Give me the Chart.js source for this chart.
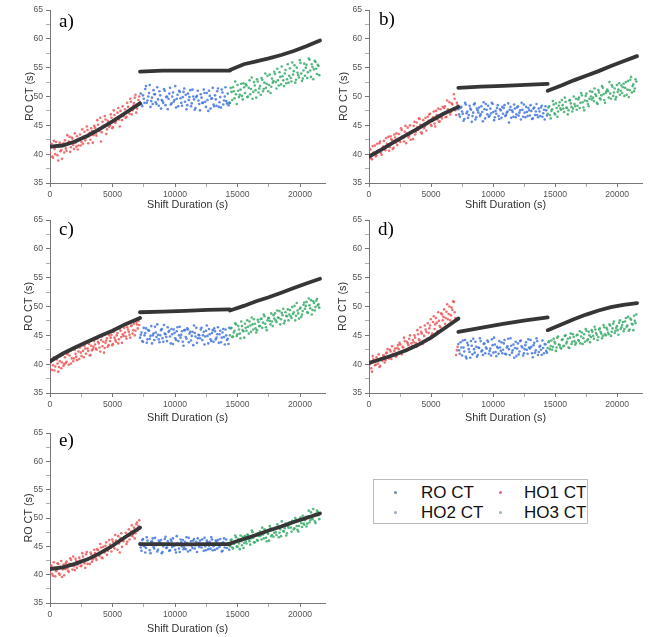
<!DOCTYPE html>
<html>
<head>
<meta charset="utf-8">
<script src="https://cdn.jsdelivr.net/npm/chart.js@4.4.1/dist/chart.umd.min.js"></script>
<style>
  body { margin: 0; background: #fff; width: 650px; height: 637px; position: relative; overflow: hidden; font-family: "Liberation Sans", Arial, sans-serif; }
  canvas { position: absolute; }
  #legend { position: absolute; left: 373px; top: 479px; width: 213px; height: 43px; border: 1px solid #bbb; }
  .item { position: absolute; font-size: 17px; line-height: 20px; color: #111; white-space: nowrap; }
  .dot { position: absolute; width: 3px; height: 3px; border-radius: 50%; }
</style>
</head>
<body>
<canvas id="panelA"></canvas>
<canvas id="panelB"></canvas>
<canvas id="panelC"></canvas>
<canvas id="panelD"></canvas>
<canvas id="panelE"></canvas>
<div id="legend"></div>
<script>
// time grid inside each 7200 s block (two interleaved passes), and where each block starts
const sampleOffsets = [0,120,240,360,480,600,720,840,960,1080,1200,1320,1440,1560,1680,1800,1920,2040,2160,2280,
  2400,2520,2640,2760,2880,3000,3120,3240,3360,3480,3600,3720,3840,3960,4080,4200,4320,4440,4560,4680,
  4800,4920,5040,5160,5280,5400,5520,5640,5760,5880,6000,6120,6240,6360,6480,6600,6720,6840,6960,7080];
const sampleOffsets2 = [60,180,300,420,540,660,780,900,1020,1140,1260,1380,1500,1620,1740,1860,1980,2100,2220,2340,
  2460,2580,2700,2820,2940,3060,3180,3300,3420,3540,3660,3780,3900,4020,4140,4260,4380,4500,4620,4740,
  4860,4980,5100,5220,5340,5460,5580,5700,5820,5940,6060,6180,6300,6420,6540,6660,6780,6900,7020,7140];
const segmentStarts = [0, 7200, 14400];

// x positions of the fitted curves
const fitX1 = [0, 1000, 2000, 3000, 4000, 5000, 6000, 7200];
const fitX2 = [7200, 9000, 10800, 12600, 14400];
const fitX3 = [14400, 15500, 16500, 17500, 18500, 19500, 20500, 21600];

// axis ticks (labelled ones are multiples of 5000 / 5)
const xTicks = [0, 2500, 5000, 7500, 10000, 12500, 15000, 17500, 20000];
const yTicks = [35, 37.5, 40, 42.5, 45, 47.5, 50, 52.5, 55, 57.5, 60, 62.5, 65];

const legendLabels = ['RO CT', 'HO1 CT', 'HO2 CT', 'HO3 CT'];
const panelLabels = ['a)', 'b)', 'c)', 'd)', 'e)'];

// ---- a) ----
const aRed = [40.2,41.8,39.4,40.9,42.1,39.8,41.3,40.5,39.2,41.9,
  42.4,40.6,41.8,43.0,41.2,42.7,40.9,42.0,43.1,41.5,
  43.4,42.1,41.8,43.9,42.8,44.2,43.1,42.5,44.0,43.3,
  44.6,43.2,45.1,44.0,42.2,45.6,44.8,46.0,44.3,45.4,
  45.0,46.3,44.7,46.8,45.7,47.2,46.0,47.5,45.9,46.6,
  47.8,46.5,48.2,47.0,49.1,47.6,48.8,50.3,47.9,49.4];
const aRed2 = [41.1,39.6,42.3,40.0,41.5,38.9,42.0,40.7,41.7,40.3,
  41.0,43.3,42.2,40.4,42.9,41.6,43.6,41.3,40.8,42.6,
  41.5,44.3,43.0,42.4,44.8,41.9,43.7,44.5,42.0,44.9,
  43.6,45.9,44.4,46.3,43.8,44.9,46.6,43.5,45.8,44.7,
  46.9,44.5,47.6,45.4,46.2,48.0,44.8,46.7,48.3,47.1,
  46.3,48.9,47.4,49.6,46.9,48.4,49.8,47.2,48.7,50.0];
const aBlue = [49.0,48.6,50.2,48.9,51.8,49.3,50.6,48.2,49.8,51.1,
  50.4,48.7,49.5,50.9,47.9,49.2,51.3,48.5,50.0,49.6,
  51.5,48.8,50.7,49.4,48.1,50.3,51.0,49.7,48.4,50.8,
  49.1,47.8,50.5,49.9,48.3,51.2,49.5,48.0,50.1,49.3,
  47.6,49.8,48.9,50.6,48.2,49.4,51.0,47.9,49.7,48.6,
  50.2,48.4,51.4,49.0,48.1,50.7,49.3,51.6,48.8,48.5];
const aBlue2 = [50.5,48.3,49.6,51.3,48.9,50.0,52.0,49.2,48.7,50.4,
  49.0,51.6,48.4,50.2,49.4,48.9,51.0,49.9,47.8,50.5,
  48.6,50.0,49.1,51.8,49.6,48.3,50.8,48.9,49.9,51.4,
  50.3,48.5,49.4,51.1,48.8,50.0,47.7,49.9,51.0,48.7,
  50.4,48.9,51.2,49.1,50.6,47.5,50.1,49.6,51.5,48.3,
  49.5,50.9,48.2,49.9,51.2,48.6,50.0,49.2,50.5,48.9];
const aGreen = [48.9,50.8,51.6,49.7,50.4,52.0,49.9,51.2,50.1,52.3,
  50.6,51.9,50.0,52.8,51.3,49.6,52.5,51.1,53.0,50.7,
  51.8,53.2,50.9,52.4,51.5,53.6,52.0,50.6,53.1,52.7,
  53.9,51.4,52.8,54.2,52.1,53.5,51.8,54.6,53.0,52.4,
  54.9,52.6,53.8,55.4,52.9,54.1,53.3,55.8,52.7,54.5,
  53.6,55.5,54.2,56.4,53.4,55.1,54.7,56.0,53.9,55.3];
const aGreen2 = [51.5,49.4,50.9,52.6,48.7,51.0,50.3,52.2,49.5,51.6,
  52.1,49.9,51.5,50.4,53.3,50.8,51.9,49.8,52.6,51.4,
  50.3,52.9,51.3,54.0,52.2,50.9,53.8,51.7,52.4,54.3,
  52.5,54.8,51.9,53.4,55.2,52.8,54.0,52.3,55.6,53.6,
  53.2,55.9,54.4,52.4,55.0,53.7,56.3,54.0,53.1,55.7,
  55.0,53.2,56.6,54.5,55.6,53.0,56.2,54.8,55.5,53.7];
const aFit1 = [41.3, 41.5, 42.2, 43.2, 44.4, 45.7, 47.1, 48.8];
const aFit2 = [54.3, 54.5, 54.5, 54.5, 54.5];
const aFit3 = [54.6, 55.6, 56.1, 56.6, 57.2, 57.9, 58.7, 59.7];

// ---- b) ----
const bRed = [39.5,40.8,39.1,40.3,41.5,39.8,40.6,41.9,40.2,41.0,
  42.3,40.7,41.8,43.0,41.2,42.6,40.9,43.4,42.0,41.6,
  43.5,42.1,44.2,42.8,43.9,41.9,44.6,43.2,42.5,44.0,
  44.9,43.4,45.5,44.2,46.1,43.8,45.0,44.5,46.3,45.2,
  45.8,47.0,44.9,46.4,45.3,47.5,46.0,45.6,47.8,46.2,
  47.1,48.3,46.5,47.8,49.0,47.3,48.6,50.4,47.6,48.9];
const bRed2 = [40.9,39.3,41.4,40.0,39.6,41.8,40.4,42.2,39.9,41.3,
  41.0,42.8,41.5,40.6,43.1,42.4,41.1,42.9,43.6,42.3,
  42.4,44.5,43.0,42.2,44.9,43.6,42.9,45.0,43.8,42.6,
  45.6,43.9,44.7,46.2,45.1,43.6,45.9,44.8,44.1,46.5,
  46.9,45.1,46.1,47.4,44.8,46.8,47.9,45.7,46.5,48.2,
  48.0,46.4,49.3,47.5,46.9,48.8,47.7,49.6,46.8,48.5];
const bBlue = [47.8,46.5,48.2,47.0,46.1,48.6,47.4,46.8,47.9,45.6,
  47.2,48.8,46.4,47.6,48.1,46.9,47.3,49.0,46.2,47.7,
  48.4,46.7,47.1,48.7,45.9,47.5,48.0,46.6,47.8,46.3,
  47.0,48.5,46.8,47.4,45.5,48.2,47.6,46.5,47.9,46.9,
  48.3,47.2,46.0,47.7,48.6,46.4,47.3,48.0,46.7,47.5,
  46.2,48.1,47.4,46.8,47.9,46.6,48.4,47.1,46.0,47.6];
const bBlue2 = [46.9,48.0,47.4,45.8,48.9,47.1,46.3,48.4,47.7,46.6,
  48.6,46.0,47.9,47.2,46.6,48.3,45.7,47.8,48.7,46.9,
  46.5,47.9,48.9,47.3,46.4,47.0,48.5,46.1,47.6,48.2,
  48.0,46.6,47.2,48.8,47.7,46.3,47.3,48.6,46.4,48.1,
  46.7,47.6,48.9,46.5,47.2,48.2,46.6,47.6,48.5,46.1,
  47.9,46.8,48.7,46.4,47.4,48.1,46.5,47.7,48.3,46.7];
const bGreen = [47.0,48.3,46.2,47.8,48.6,46.9,48.0,47.4,49.0,47.7,
  48.5,47.3,49.1,48.0,47.6,49.4,48.2,47.9,48.7,49.6,
  48.4,49.8,48.9,50.2,48.1,49.3,50.5,48.7,49.6,50.0,
  50.8,49.2,50.4,48.9,51.1,49.7,50.2,51.5,49.4,50.6,
  51.2,49.8,50.5,52.0,50.1,51.4,49.9,50.8,52.3,51.0,
  50.6,52.2,51.5,50.3,52.7,51.1,53.4,51.8,50.9,53.0];
const bGreen2 = [48.1,46.8,47.5,49.2,47.1,48.8,46.5,48.4,47.9,49.4,
  47.9,49.8,48.1,46.9,49.3,48.8,47.4,50.0,48.3,47.7,
  49.5,48.0,50.6,49.0,47.6,50.1,49.2,48.3,50.9,49.5,
  49.8,51.4,50.1,48.7,50.7,49.5,51.8,50.4,48.9,50.9,
  50.9,52.5,49.6,51.7,50.7,49.5,52.0,51.2,50.3,51.9,
  51.6,50.1,52.5,51.2,49.9,52.9,50.7,52.1,51.4,52.6];
const bFit1 = [39.6, 40.8, 42.1, 43.3, 44.5, 45.8, 47.0, 48.2];
const bFit2 = [51.5, 51.7, 51.85, 52.0, 52.2];
const bFit3 = [51.0, 51.9, 52.8, 53.6, 54.4, 55.3, 56.1, 57.0];

// ---- c) ----
const cRed = [39.2,40.6,39.8,38.9,41.0,40.1,39.5,41.4,40.3,39.7,
  41.2,40.4,42.0,41.5,40.1,42.6,41.0,41.8,40.7,42.2,
  42.9,41.4,42.3,43.2,41.8,42.7,43.5,41.6,42.4,43.0,
  43.4,42.5,43.9,42.9,44.2,43.1,42.0,43.7,44.5,43.3,
  44.0,45.1,43.5,44.6,43.9,45.4,44.3,45.8,43.7,44.9,
  45.5,44.4,46.0,45.1,46.6,45.3,47.0,45.8,46.9,47.5];
const cRed2 = [40.3,39.0,41.2,39.6,40.8,38.7,40.5,39.3,41.6,40.0,
  40.2,41.7,39.9,42.3,41.0,40.5,42.5,41.3,42.9,40.9,
  42.0,43.3,41.2,42.7,43.8,42.3,41.5,43.2,42.6,44.0,
  42.7,44.4,43.6,42.2,44.8,43.9,42.8,44.1,43.0,45.0,
  44.6,43.3,45.6,44.2,45.0,43.6,46.1,44.7,45.2,46.3,
  44.8,46.4,45.6,44.6,46.7,45.9,45.0,47.3,46.2,46.8];
const cBlue = [44.6,45.5,43.9,45.0,46.2,44.3,45.8,44.9,43.6,45.3,
  46.5,44.7,45.1,43.8,45.9,44.5,46.8,45.2,44.0,45.6,
  44.8,46.1,43.5,45.4,44.2,46.4,45.0,44.6,45.7,43.2,
  45.9,44.4,46.0,45.3,44.1,45.6,46.7,44.8,43.7,45.1,
  44.5,46.3,45.0,43.4,45.8,44.9,46.1,44.3,45.4,43.9,
  45.7,44.6,46.4,45.2,43.8,45.5,44.7,46.0,44.2,43.5];
const cBlue2 = [45.1,44.0,46.3,45.4,43.7,45.9,44.4,46.6,45.0,44.2,
  45.5,46.9,44.3,45.0,46.1,43.9,45.3,44.7,46.4,45.8,
  43.6,45.2,46.0,44.5,45.7,44.0,46.5,45.1,43.9,45.9,
  44.7,46.2,43.8,45.6,44.9,43.3,45.4,46.3,44.5,45.0,
  46.0,44.2,45.6,44.8,46.7,43.6,45.2,44.0,45.9,46.2,
  44.3,45.2,43.7,45.8,44.6,46.1,43.4,45.0,44.4,46.3];
const cGreen = [45.0,46.3,44.8,45.8,46.9,45.2,46.0,44.5,46.6,45.7,
  47.0,45.8,46.5,47.4,45.6,46.9,47.8,46.2,45.9,47.3,
  46.6,47.9,47.2,48.3,46.4,47.6,48.0,46.9,47.4,48.5,
  48.8,47.3,48.1,49.2,47.8,48.5,47.1,49.0,48.3,47.6,
  49.4,48.0,48.7,50.1,48.4,49.3,47.9,49.8,48.6,50.3,
  49.6,50.8,48.9,50.2,51.1,49.4,50.6,49.9,51.3,50.4];
const cGreen2 = [46.2,44.7,45.5,47.1,44.9,46.6,45.3,47.4,45.9,44.6,
  46.3,47.6,45.3,46.7,48.1,46.0,47.0,45.5,47.7,46.6,
  47.8,46.3,48.6,47.0,45.9,48.0,47.5,48.8,46.6,47.9,
  47.6,49.3,48.0,46.9,48.9,49.6,47.5,48.4,49.5,48.6,
  48.3,49.9,49.0,47.6,50.6,48.8,49.6,48.2,49.2,50.7,
  50.1,49.0,51.4,49.7,48.6,50.9,49.3,51.0,50.2,49.8];
const cFit1 = [40.5, 41.8, 42.9, 43.9, 44.9, 45.8, 46.9, 48.0];
const cFit2 = [49.0, 49.1, 49.25, 49.4, 49.5];
const cFit3 = [49.3, 50.1, 50.9, 51.6, 52.4, 53.2, 54.0, 54.8];

// ---- d) ----
const dRed = [39.0,40.4,38.7,40.9,39.8,41.2,40.1,39.5,41.0,40.6,
  41.5,40.7,42.0,41.1,42.5,40.9,41.8,42.3,41.3,42.8,
  42.6,43.4,41.7,42.9,44.0,42.3,43.6,44.4,42.8,43.1,
  43.8,44.6,43.0,45.2,44.1,45.6,43.5,44.9,46.0,44.4,
  45.4,46.7,45.0,47.3,46.1,48.0,45.7,47.5,46.4,48.6,
  48.2,47.0,49.1,47.8,50.0,48.5,49.4,50.8,48.0,42.4];
const dRed2 = [40.0,39.3,41.4,40.5,39.9,40.8,41.7,39.7,40.9,41.5,
  40.3,41.9,42.6,41.0,42.2,43.1,41.6,42.7,41.4,43.3,
  43.7,42.0,43.0,44.6,42.5,43.9,43.3,45.0,43.6,44.2,
  45.0,43.6,45.9,44.3,46.4,45.3,44.0,46.7,45.6,47.1,
  46.2,47.8,45.3,48.3,46.9,47.2,49.0,46.6,48.8,47.6,
  49.5,48.0,50.4,48.7,47.6,49.8,50.9,49.0,41.6,43.0];
const dBlue = [43.5,41.8,42.9,44.1,42.2,41.3,43.7,42.6,41.1,43.2,
  44.4,42.0,43.0,41.6,42.8,44.0,42.4,43.5,41.9,42.7,
  43.9,42.3,41.5,43.3,44.6,42.1,43.0,41.8,42.9,43.8,
  42.5,44.2,41.7,43.1,42.6,44.5,42.0,43.4,42.8,41.4,
  43.6,42.2,44.1,42.9,41.9,43.3,42.5,44.3,42.7,43.0,
  41.2,43.7,42.4,44.0,42.1,43.2,41.6,42.8,43.5,42.3];
const dBlue2 = [42.4,43.8,41.5,42.9,44.2,41.0,43.3,42.1,44.0,41.7,
  42.6,43.9,41.3,42.9,44.5,42.2,41.6,43.6,42.9,44.1,
  41.8,42.7,44.3,42.0,43.4,41.4,42.8,44.0,42.3,41.9,
  43.6,41.8,42.9,44.4,41.6,43.2,42.4,41.1,43.9,42.7,
  41.7,44.0,43.1,41.5,42.6,43.8,41.8,42.9,44.2,41.9,
  43.3,42.0,44.5,41.6,43.0,42.5,44.1,41.9,43.4,42.0];
const dGreen = [42.8,44.0,43.1,42.5,44.4,43.6,42.9,44.8,43.3,42.7,
  44.3,43.2,45.0,43.9,42.9,44.6,43.5,45.2,44.0,43.7,
  45.1,44.0,43.6,45.5,44.5,43.9,45.8,44.3,45.0,44.7,
  45.6,44.4,46.0,45.1,44.7,46.2,45.3,44.9,46.4,45.0,
  46.0,45.2,46.7,45.6,47.0,45.4,46.3,45.9,47.2,46.1,
  46.8,45.7,47.4,46.5,48.2,46.0,47.7,46.9,48.4,47.1];
const dGreen2 = [43.8,42.6,44.1,43.0,43.9,42.3,44.6,43.4,42.9,44.2,
  43.1,44.9,43.6,44.4,42.8,45.3,43.9,44.7,43.4,45.0,
  44.2,45.7,44.8,43.5,45.2,46.1,44.1,45.6,43.8,45.9,
  44.9,46.5,45.4,44.2,46.0,45.6,44.5,46.8,45.2,46.3,
  45.5,46.9,44.9,46.2,47.4,45.8,46.6,45.1,47.6,46.4,
  47.3,46.1,48.0,46.7,45.8,47.9,47.0,45.9,47.5,48.6];
const dFit1 = [40.2, 40.9, 41.6, 42.4, 43.4, 44.6, 46.1, 47.9];
const dFit2 = [45.6, 46.3, 47.0, 47.6, 48.1];
const dFit3 = [45.9, 46.9, 47.8, 48.6, 49.3, 49.9, 50.3, 50.6];

// ---- e) ----
const eRed = [40.4,41.6,39.8,41.1,40.6,42.0,40.2,41.4,39.6,41.8,
  41.0,42.3,40.7,41.9,42.6,40.9,41.5,42.8,41.2,42.1,
  42.5,41.6,43.2,42.0,43.6,41.9,42.9,43.9,42.3,43.1,
  43.8,42.6,44.3,43.3,44.8,42.9,44.0,45.1,43.5,44.5,
  45.3,44.1,45.8,44.6,46.0,44.4,45.5,46.4,44.9,45.9,
  46.5,45.4,47.1,46.2,47.6,46.8,48.3,47.3,49.2,48.6];
const eRed2 = [41.3,40.1,42.2,39.7,40.8,41.9,40.0,42.4,40.9,39.9,
  42.0,41.1,40.5,42.9,41.6,43.2,40.8,42.4,41.8,43.0,
  41.5,43.8,42.6,41.2,44.0,42.8,41.9,43.6,42.7,44.4,
  42.9,44.5,43.7,45.4,43.0,44.9,43.9,45.7,44.2,46.1,
  44.7,46.2,45.0,47.0,45.6,46.8,43.9,47.3,46.0,46.6,
  47.4,45.8,48.0,46.9,48.7,47.2,46.4,48.9,47.8,49.6];
const eBlue = [45.6,44.2,46.3,45.0,44.7,46.0,45.4,43.8,45.9,44.9,
  46.5,45.2,44.4,45.7,46.1,44.0,45.3,46.7,44.8,45.5,
  44.3,45.9,46.4,45.1,43.9,45.6,44.6,46.2,45.0,44.5,
  45.8,46.6,44.1,45.3,45.9,44.7,46.3,45.2,44.0,45.6,
  46.0,44.8,45.4,46.5,44.3,45.7,45.1,44.6,46.2,45.0,
  44.4,45.8,46.1,44.9,45.5,44.2,46.4,45.3,44.7,45.6];
const eBlue2 = [44.8,46.1,45.1,43.9,46.6,45.3,44.3,45.8,46.4,44.6,
  45.4,44.1,46.0,45.6,43.8,45.0,46.3,44.7,45.9,44.2,
  46.2,44.9,45.2,44.4,46.8,45.4,44.0,45.7,46.1,44.8,
  44.5,45.6,46.5,44.3,45.1,46.0,44.6,45.8,46.4,44.9,
  45.3,46.2,44.2,45.0,46.0,44.5,45.8,46.6,44.3,45.4,
  46.0,44.6,45.2,46.3,44.1,45.7,44.8,46.2,45.4,44.4];
const eGreen = [45.0,46.2,44.6,45.8,46.6,44.9,45.5,46.9,45.2,44.7,
  46.8,45.5,47.0,45.9,46.4,47.5,45.7,46.9,46.1,47.3,
  47.6,46.2,47.1,48.0,46.5,47.4,46.0,48.2,47.0,46.7,
  48.1,47.0,48.5,47.4,46.8,48.7,47.6,49.0,47.3,48.3,
  48.9,47.6,49.3,48.2,49.7,47.9,48.6,50.1,48.4,49.0,
  49.6,48.5,50.3,49.2,51.0,49.8,50.6,49.1,51.3,50.5];
const eGreen2 = [46.1,44.8,45.4,46.9,45.0,46.3,44.5,45.9,46.7,45.6,
  45.9,47.1,46.2,45.3,47.8,46.5,45.7,47.2,46.0,46.8,
  46.9,48.3,46.4,47.7,45.9,47.2,48.6,46.8,47.9,47.4,
  47.5,48.9,46.6,48.0,49.4,47.7,48.2,46.9,48.6,49.2,
  48.3,49.5,48.0,50.0,48.6,47.6,49.8,49.1,50.4,48.8,
  50.2,49.0,51.3,49.6,50.0,51.6,49.4,50.8,51.1,49.8];
const eFit1 = [41.0, 41.3, 41.9, 42.7, 43.8, 45.1, 46.6, 48.3];
const eFit2 = [45.4, 45.4, 45.35, 45.4, 45.4];
const eFit3 = [45.5, 46.3, 47.0, 47.8, 48.5, 49.3, 50.0, 50.8];

const RED = 'rgba(235,88,88,0.85)';
const BLUE = 'rgba(66,118,222,0.85)';
const GREEN = 'rgba(56,172,104,0.85)';
const FIT = '#363636';
const AXIS = '#777';

const panelLabelPlugin = {
  id: 'panelLabel',
  afterDraw(chart, args, opts) {
    const ctx = chart.ctx;
    ctx.save();
    ctx.font = '19px "Liberation Serif", "Times New Roman", serif';
    ctx.fillStyle = '#000';
    ctx.textBaseline = 'middle';
    ctx.fillText(opts.text, chart.chartArea.left + opts.dx, opts.y);
    ctx.restore();
  }
};

function scatterSet(ys, offsets, k, color) {
  return {
    type: 'scatter',
    data: ys.map((y, i) => ({ x: segmentStarts[k] + offsets[i], y: y })),
    backgroundColor: color,
    borderWidth: 0,
    pointRadius: 1.3,
    order: 2
  };
}

function fitSet(xs, ys) {
  return {
    type: 'line',
    data: xs.map((x, i) => ({ x: x, y: ys[i] })),
    borderColor: FIT,
    borderWidth: 3.8,
    borderCapStyle: 'round',
    pointRadius: 0,
    tension: 0,
    order: 1
  };
}

const tickFont = { family: 'Liberation Sans', size: 8.6 };
const titleFont = { family: 'Liberation Sans', size: 10.8, lineHeight: 1.2 };

function buildPanel(p) {
  const canvas = document.getElementById(p.id);
  canvas.width = p.w;
  canvas.height = p.h;
  canvas.style.left = p.left + 'px';
  canvas.style.top = p.top + 'px';
  canvas.style.width = p.w + 'px';
  canvas.style.height = p.h + 'px';

  new Chart(canvas.getContext('2d'), {
    type: 'scatter',
    data: {
      datasets: [
        fitSet(fitX1, p.fits[0]),
        fitSet(fitX2, p.fits[1]),
        fitSet(fitX3, p.fits[2]),
        scatterSet(p.red, sampleOffsets, 0, RED),
        scatterSet(p.red2, sampleOffsets2, 0, RED),
        scatterSet(p.blue, sampleOffsets, 1, BLUE),
        scatterSet(p.blue2, sampleOffsets2, 1, BLUE),
        scatterSet(p.green, sampleOffsets, 2, GREEN),
        scatterSet(p.green2, sampleOffsets2, 2, GREEN)
      ]
    },
    options: {
      responsive: false,
      animation: false,
      devicePixelRatio: 1,
      layout: { padding: { top: p.padTop, right: p.padRight, left: 0, bottom: 0 } },
      plugins: {
        legend: { display: false },
        tooltip: { enabled: false },
        panelLabel: { text: p.label, dx: p.labelDx, y: p.labelY }
      },
      scales: {
        x: {
          type: 'linear',
          min: 0,
          max: 22000,
          afterBuildTicks: (scale) => { scale.ticks = xTicks.map(v => ({ value: v })); },
          afterFit: (scale) => { scale.height = p.xAxisH; },
          border: { display: true, color: AXIS, width: 1 },
          grid: {
            drawOnChartArea: false, drawTicks: true, tickLength: 4, color: AXIS,
            tickWidth: (c) => (c.tick && Math.round(c.tick.value) % 5000 === 0 ? 1 : 0.6)
          },
          ticks: {
            autoSkip: false, maxRotation: 0, minRotation: 0,
            padding: 2, color: '#555', font: tickFont,
            callback: (v) => { const r = Math.round(v); return r % 5000 === 0 ? String(r) : ''; }
          },
          title: {
            display: true, text: 'Shift Duration (s)', color: '#333', font: titleFont,
            padding: { top: 0, bottom: p.xTitlePad }
          }
        },
        y: {
          min: 35,
          max: 65,
          afterBuildTicks: (scale) => { scale.ticks = yTicks.map(v => ({ value: v })); },
          afterFit: (scale) => { scale.width = p.yAxisW; },
          border: { display: true, color: AXIS, width: 1 },
          grid: {
            drawOnChartArea: false, drawTicks: true, tickLength: 4, color: AXIS,
            tickWidth: (c) => (c.tick && c.tick.value % 5 === 0 ? 1 : 0.6)
          },
          ticks: {
            autoSkip: false, padding: 3, color: '#555', font: tickFont,
            callback: (v) => (v % 5 === 0 ? String(v) : '')
          },
          title: {
            display: true, text: 'RO CT (s)', color: '#333', font: titleFont,
            padding: { top: p.yTitlePad, bottom: 0 }
          }
        }
      }
    },
    plugins: [panelLabelPlugin]
  });
}

const panels = [
  { id: 'panelA', left: 0, top: 0, w: 330, h: 215, yAxisW: 50, padTop: 10, padRight: 5, xAxisH: 32,
    yTitlePad: 23.5, xTitlePad: 3.5, label: panelLabels[0], labelDx: 9, labelY: 22,
    red: aRed, red2: aRed2, blue: aBlue, blue2: aBlue2, green: aGreen, green2: aGreen2, fits: [aFit1, aFit2, aFit3] },
  { id: 'panelB', left: 319, top: 0, w: 331, h: 215, yAxisW: 50, padTop: 10, padRight: 8, xAxisH: 32,
    yTitlePad: 18.2, xTitlePad: 3.5, label: panelLabels[1], labelDx: 10, labelY: 20,
    red: bRed, red2: bRed2, blue: bBlue, blue2: bBlue2, green: bGreen, green2: bGreen2, fits: [bFit1, bFit2, bFit3] },
  { id: 'panelC', left: 0, top: 210, w: 330, h: 215, yAxisW: 50, padTop: 10, padRight: 5, xAxisH: 32,
    yTitlePad: 22.8, xTitlePad: 0.5, label: panelLabels[2], labelDx: 9, labelY: 20,
    red: cRed, red2: cRed2, blue: cBlue, blue2: cBlue2, green: cGreen, green2: cGreen2, fits: [cFit1, cFit2, cFit3] },
  { id: 'panelD', left: 319, top: 210, w: 331, h: 215, yAxisW: 50, padTop: 10, padRight: 8, xAxisH: 32,
    yTitlePad: 17.8, xTitlePad: 0.5, label: panelLabels[3], labelDx: 9, labelY: 20,
    red: dRed, red2: dRed2, blue: dBlue, blue2: dBlue2, green: dGreen, green2: dGreen2, fits: [dFit1, dFit2, dFit3] },
  { id: 'panelE', left: 0, top: 420, w: 330, h: 217, yAxisW: 50, padTop: 13, padRight: 5, xAxisH: 34,
    yTitlePad: 22.8, xTitlePad: 1.5, label: panelLabels[4], labelDx: 9, labelY: 21,
    red: eRed, red2: eRed2, blue: eBlue, blue2: eBlue2, green: eGreen, green2: eGreen2, fits: [eFit1, eFit2, eFit3] }
];

panels.forEach(buildPanel);

// legend box (HTML text)
const legendColors = ['#7288b0', '#e8607a', '#97a5c2', '#93b8a4'];
const legendSpots = [
  { dotX: 21, textX: 47, cy: 12.7 },
  { dotX: 126, textX: 150, cy: 12.7 },
  { dotX: 21, textX: 47, cy: 32.7 },
  { dotX: 126, textX: 150, cy: 32.7 }
];
const legendBox = document.getElementById('legend');
legendLabels.forEach((name, i) => {
  const s = legendSpots[i];
  const dot = document.createElement('div');
  dot.className = 'dot';
  dot.style.left = (s.dotX - 1.5) + 'px';
  dot.style.top = (s.cy - 1.5) + 'px';
  dot.style.background = legendColors[i];
  legendBox.appendChild(dot);
  const txt = document.createElement('div');
  txt.className = 'item';
  txt.style.left = s.textX + 'px';
  txt.style.top = (s.cy - 10) + 'px';
  txt.textContent = name;
  legendBox.appendChild(txt);
});
</script>
</body>
</html>
